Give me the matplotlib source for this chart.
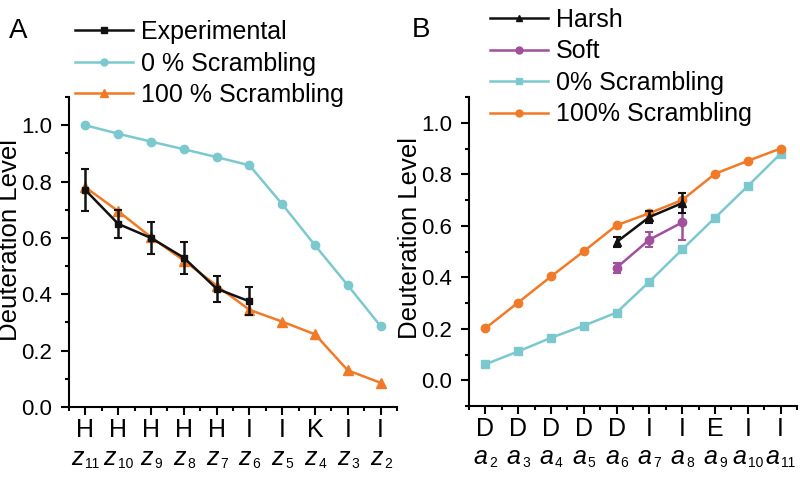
import matplotlib
matplotlib.use("Agg")
import matplotlib.pyplot as plt
import matplotlib.transforms as mtransforms
from matplotlib.lines import Line2D
from matplotlib.ticker import MultipleLocator

plt.rcParams['font.family'] = ['Liberation Sans', 'DejaVu Sans']

# ---------------- data ----------------
# Panel A
a_letters = ["H", "H", "H", "H", "H", "I", "I", "K", "I", "I"]
a_ions = ["11", "10", "9", "8", "7", "6", "5", "4", "3", "2"]
a_exp = [0.77, 0.65, 0.60, 0.53, 0.42, 0.375]
a_exp_err = [0.075, 0.05, 0.058, 0.057, 0.046, 0.05]
a_s0 = [1.00, 0.97, 0.942, 0.915, 0.887, 0.858, 0.72, 0.574, 0.432, 0.287]
a_s100 = [0.78, 0.695, 0.603, 0.52, 0.431, 0.345, 0.303, 0.258, 0.13, 0.086]

# Panel B
b_letters = ["D", "D", "D", "D", "D", "I", "I", "E", "I", "I"]
b_ions = ["2", "3", "4", "5", "6", "7", "8", "9", "10", "11"]
b_harsh = [0.537, 0.634, 0.688]
b_harsh_err = [0.02, 0.025, 0.04]
b_soft = [0.437, 0.546, 0.613]
b_soft_err = [0.02, 0.03, 0.07]
b_s0 = [0.062, 0.112, 0.165, 0.212, 0.263, 0.383, 0.508, 0.631, 0.754, 0.88]
b_s100 = [0.202, 0.302, 0.403, 0.501, 0.602, 0.649, 0.70, 0.802, 0.852, 0.90]

CYAN = "#7CC8CF"
ORANGE = "#F07A28"
PURPLE = "#A0509C"
BLACK = "#111111"

fig = plt.figure(figsize=(8.0, 4.79), dpi=100)
axA = fig.add_axes([0.08625, 0.1503, 0.41, 0.647])
axB = fig.add_axes([0.58625, 0.1524, 0.41, 0.645])

def style(ax, ymin, ylab_xy):
    for s in ("top", "right"):
        ax.spines[s].set_visible(False)
    for s in ("left", "bottom"):
        ax.spines[s].set_linewidth(1.5)
    ax.set_xlim(0.5, 10.5)
    ax.set_ylim(ymin, 1.1)
    ax.yaxis.set_major_locator(MultipleLocator(0.2))
    ax.yaxis.set_minor_locator(MultipleLocator(0.1))
    ax.xaxis.set_minor_locator(MultipleLocator(0.5))
    ax.tick_params(which="major", direction="out", length=6, width=1.5)
    ax.tick_params(axis="x", which="major", labelsize=18, pad=2)
    ax.tick_params(axis="y", which="major", labelsize=16, pad=6)
    ax.tick_params(which="minor", direction="out", length=3, width=1.5)
    ax.set_yticks([0.0, 0.2, 0.4, 0.6, 0.8, 1.0])
    ax.set_yticklabels(["0.0", "0.2", "0.4", "0.6", "0.8", "1.0"])
    ax.set_ylabel("Deuteration Level", fontsize=18.5)
    ax.yaxis.set_label_coords(*ylab_xy)

style(axA, 0.0, (-0.142, 0.54))
style(axB, -0.1, (-0.142, 0.544))

xs = list(range(1, 11))

def xlabels(ax, letters, ions, sym, wsym):
    ax.set_xticks(xs)
    ax.set_xticklabels(letters, fontsize=18)
    trans = mtransforms.blended_transform_factory(ax.transData, ax.transAxes)
    fs_sub = 10
    for x, n in zip(xs, ions):
        wn = len(n) * 0.556 * fs_sub
        off = (wsym - wn) / 2.0
        ax.annotate(sym, (x, -0.187), xycoords=trans, xytext=(off - 0.5, 0),
                    textcoords="offset points", ha="right", va="baseline",
                    fontsize=18, style="italic")
        ax.annotate(n, (x, -0.187), xycoords=trans, xytext=(off + 0.6, -2.5),
                    textcoords="offset points", ha="left", va="baseline",
                    fontsize=fs_sub)

xlabels(axA, a_letters, a_ions, "z", 0.5 * 18)
xlabels(axB, b_letters, b_ions, "a", 0.556 * 18)

# Panel A plots
axA.errorbar(xs[:len(a_exp)], a_exp, yerr=a_exp_err, color=BLACK, marker="s",
             markersize=5, lw=1.8, capsize=3, elinewidth=1.8, capthick=1.5,
             zorder=5)
axA.plot(xs, a_s0, color=CYAN, marker="o", markersize=6, lw=1.8)
axA.plot(xs, a_s100, color=ORANGE, marker="^", markersize=7, lw=1.8)

# Panel B plots
axB.errorbar(xs[4:4 + len(b_harsh)], b_harsh, yerr=b_harsh_err, color=BLACK,
             marker="^", markersize=6, lw=1.8, capsize=3, elinewidth=1.8,
             capthick=1.5, zorder=5)
axB.errorbar(xs[4:4 + len(b_soft)], b_soft, yerr=b_soft_err, color=PURPLE,
             marker="o", markersize=6, lw=1.8, capsize=3, elinewidth=1.8,
             capthick=1.5, zorder=4)
axB.plot(xs, b_s0, color=CYAN, marker="s", markersize=6, lw=1.8)
axB.plot(xs, b_s100, color=ORANGE, marker="o", markersize=6, lw=1.8)

def h(color, marker, ms):
    return Line2D([], [], color=color, marker=marker, markersize=ms, lw=1.8)

legkw = dict(frameon=False, fontsize=18, handlelength=2.3, handletextpad=0.35,
             labelspacing=0.3, borderpad=0, borderaxespad=0)
fig.legend([h(BLACK, "s", 4), h(CYAN, "o", 5), h(ORANGE, "^", 6)],
           ["Experimental", "0 % Scrambling", "100 % Scrambling"],
           loc="upper left", bbox_to_anchor=(75 / 800, 1 - 20 / 479), **legkw)
fig.legend([h(BLACK, "^", 5), h(PURPLE, "o", 5), h(CYAN, "s", 5), h(ORANGE, "o", 5)],
           ["Harsh", "Soft", "0% Scrambling", "100% Scrambling"],
           loc="upper left", bbox_to_anchor=(490 / 800, 1 - 8 / 479), **legkw)

fig.text(9 / 800, 1 - 31 / 479, "A", fontsize=20, va="center", ha="left")
fig.text(412 / 800, 1 - 30 / 479, "B", fontsize=20, va="center", ha="left")

fig.savefig("out.png", dpi=100)
